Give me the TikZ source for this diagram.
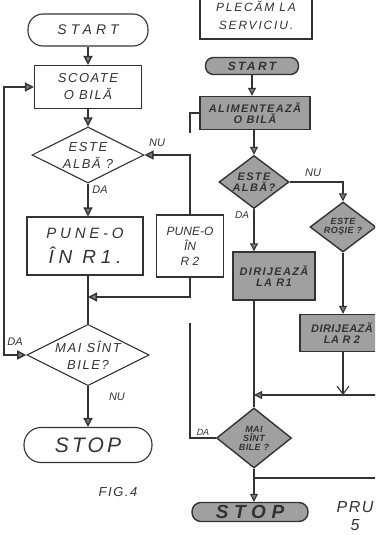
\documentclass[tikz,border=0pt]{standalone}
\usepackage{fontspec}
\setmainfont{Liberation Sans}
\usepackage{tikz}
\usetikzlibrary{positioning, arrows.meta, shapes.geometric}
\definecolor{ink}{HTML}{333333}
\definecolor{tip}{HTML}{7A7A7A}
\definecolor{hatch}{HTML}{A0A0A0}

\begin{document}
\begin{tikzpicture}[x=1pt, y=-1pt,
      every node/.style={font=\itshape\fontsize{13}{17}\selectfont\addfontfeature{LetterSpace=12}, color=ink},
      line/.style={draw=ink, line width=1.4pt},
      arr/.style={line, -{Triangle[length=9pt, width=9pt, fill=tip]}},
      twoarr/.style={line, {Triangle[length=9pt, width=9pt, fill=tip]}-{Triangle[length=9pt, width=9pt, fill=tip]}},
      rline/.style={draw=ink, line width=1.1pt},
      rarr/.style={rline, -{Triangle[length=8pt, width=8pt, fill=tip]}},
      term/.style={draw=ink, line width=1.1pt, rounded corners=15pt, inner sep=0pt},
      box/.style={draw=ink, line width=1.1pt, inner sep=0pt, align=center},
      cond/.style={draw=ink, line width=1.1pt, diamond, aspect=2, inner sep=0pt, align=center},
      dark/.style={fill=hatch, line width=1.4pt, darkfont={11}{12}},
      darkfont/.style 2 args={font=\bfseries\itshape\fontsize{#1}{#1}\selectfont\addfontfeature{LetterSpace=#2}},
      yn/.style={font=\itshape\fontsize{11}{12}\selectfont},
      spaced/.style 2 args={font=\itshape\fontsize{#1}{#1}\selectfont\addfontfeature{LetterSpace=#2}}]

    \useasboundingbox (0,0) rectangle (375,535);
    \clip (0,0) rectangle (375,535);

    % left chart
    \node[term, spaced={14}{30}, minimum width=120pt, minimum height=32pt] (start1) at (88,30) {START};
    \node[box, minimum width=107pt, minimum height=43pt] (take1) at (88,87) {SCOATE\\O BILĂ};
    \node[cond, minimum width=112pt, minimum height=56pt] (alb1) at (88,155) {ESTE\\ALBĂ ?};
    \node[box, minimum width=116pt, minimum height=58pt,
      font=\itshape\fontsize{15}{25}\selectfont\addfontfeature{LetterSpace=25}]
      (put1) at (85,246) {PUNE-O\\{\fontsize{19}{20}\selectfont ÎN R1.}};
    \node[box, minimum width=67pt, minimum height=62pt, font=\itshape\fontsize{12}{15}\selectfont]
      (put2) at (190,246) {PUNE-O\\ÎN\\R 2};
    \node[cond, minimum width=112pt, minimum height=56pt] (more1) at (88,355) {MAI SÎNT\\BILE?};
    \node[term, spaced={21}{15}, minimum width=128pt, minimum height=35pt, rounded corners=17pt]
      (stop1) at (88,445) {STOP};
    \node (fig) at (118,492) {FIG.4};

    \coordinate (join1) at (88,297);
    \coordinate (left1) at (4,355);

    \draw[arr] (start1) -- (take1);
    \draw[arr] (take1) -- (alb1);
    \draw[arr] (alb1.south) -- (alb1.south |- put1.north);
    \draw[arr] (put2.north) |- (alb1.east);
    \draw[line] (put1.south -| more1.north) -- (more1.north);
    \draw[arr] (put2.south) |- (join1);
    \draw[twoarr] (more1.west) -- (left1) |- (take1.west);
    \draw[arr] (more1) -- (stop1);

    \node[yn] at (157,143) {NU};
    \node[yn] at (100,190) {DA};
    \node[yn] at (15,342) {DA};
    \node[yn] at (117,397) {NU};

    % right chart
    \node[box, minimum width=112pt, minimum height=48pt,
      font=\itshape\fontsize{12}{18}\selectfont\addfontfeature{LetterSpace=15}]
      (go2) at (256,15) {PLECĂM LA\\SERVICIU.};
    \node[term, dark, darkfont={12}{20}, minimum width=93pt, minimum height=17pt, rounded corners=8pt]
      (start2) at (252,66) {START};
    \node[box, dark, minimum width=110pt, minimum height=33pt] (feed2) at (255,113) {ALIMENTEAZĂ\\O BILĂ};
    \node[cond, dark, aspect=1.3, minimum width=70pt, minimum height=53pt] (alb2) at (254,182) {ESTE\\ALBĂ?};
    \node[cond, dark, darkfont={9}{5}, aspect=1.3, minimum width=66pt, minimum height=50pt]
      (red2) at (343,227) {ESTE\\ROŞIE ?};
    \node[box, dark, minimum width=82pt, minimum height=48pt] (dir1) at (274,276) {DIRIJEAZĂ\\LA R1};
    \node[box, dark, darkfont={11}{4}, minimum width=84pt, minimum height=37pt] (dir2) at (342,333) {DIRIJEAZĂ\\LA R 2};
    \node[cond, dark, darkfont={9}{5}, aspect=1.3, minimum width=75pt, minimum height=60pt]
      (more2) at (254,438) {MAI\\SÎNT\\BILE ?};
    \node[term, dark, darkfont={19}{30}, minimum width=116pt, minimum height=19pt, rounded corners=9pt,
      text height=13pt, text depth=0pt]
      (stop2) at (250,512) {STOP};

    \coordinate (edge1) at (380,395);
    \coordinate (edge2) at (380,478);
    \coordinate (back2) at (190,323);
    \coordinate (back2top) at (190,133);

    \draw[rarr] (start2.south) -- (start2.south |- feed2.north);
    \draw[rarr] (alb2.north |- feed2.south) -- (alb2.north);
    \draw[rarr] (alb2.east) -| (red2.north);
    \draw[rarr] (alb2.south) -- (alb2.south |- dir1.north);
    \draw[rarr] (red2.south) -- (red2.south |- dir2.north);
    \draw[rline] (more2.north |- dir1.south) -- (more2.north);
    \draw[rline, -{Straight Barb[length=8pt, width=12pt]}] (red2.south |- dir2.south) -- (red2.south |- edge1);
    \draw[rarr] (edge1) -- (edge1 -| more2.north);
    \draw[rline] (more2.west) -| (back2);
    \draw[rline] (back2top) |- (feed2.west);
    \draw[rarr] (more2.south) -- (more2.south |- stop2.north);
    \draw[rline] (more2.south |- edge2) -- (edge2);

    \node[yn] at (313,173) {NU};
    \node[yn, font=\itshape\fontsize{10}{11}\selectfont] at (242,215) {DA};
    \node[yn, font=\itshape\fontsize{9}{10}\selectfont] at (203,432) {DA};
    \node[anchor=west, spaced={16}{10}] (pru) at (333,507) {PRU};
    \node[spaced={16}{0}] (five) at (355,525) {5};
  \end{tikzpicture}
\end{document}
